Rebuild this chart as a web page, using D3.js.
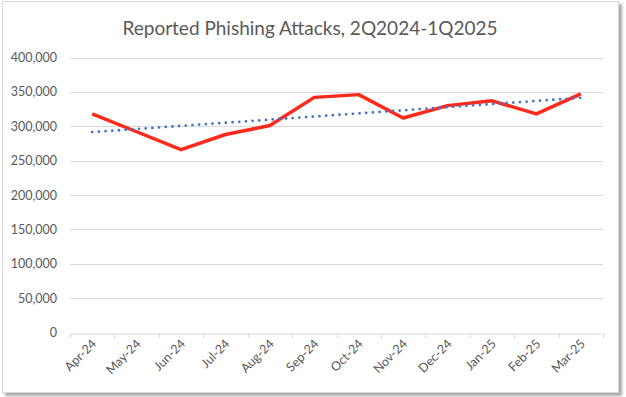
<!DOCTYPE html>
<html>
<head>
<meta charset="utf-8">
<script src="https://cdn.jsdelivr.net/npm/d3@7"></script>
<style>
  body { margin: 0; background: #fff; }
  svg { display: block; font-family: Lato, "Open Sans", sans-serif; }
</style>
</head>
<body>
<svg id="chart" width="626" height="397"></svg>
<script>
// Monthly reported phishing attacks
const months = ['Apr-24', 'May-24', 'Jun-24', 'Jul-24', 'Aug-24', 'Sep-24',
                'Oct-24', 'Nov-24', 'Dec-24', 'Jan-25', 'Feb-25', 'Mar-25'];
const attacks = [318000, 292000, 266000, 288000, 301000, 342000,
                 346000, 312000, 330000, 337000, 318000, 347000];
const yTicks = [0, 50000, 100000, 150000, 200000, 250000, 300000, 350000, 400000];

const svg = d3.select('#chart');

// Chart frame with soft shadow on right/bottom
const defs = svg.append('defs');
const f = defs.append('filter').attr('id', 'shadow')
    .attr('x', '-5%').attr('y', '-5%').attr('width', '110%').attr('height', '110%');
f.append('feDropShadow').attr('dx', 3).attr('dy', 3).attr('stdDeviation', 1.6)
    .attr('flood-color', '#000').attr('flood-opacity', 0.35);

svg.append('rect')
    .attr('x', 2.5).attr('y', 1.5).attr('width', 616).attr('height', 391)
    .attr('fill', '#fff').attr('stroke', '#d9d9d9').attr('stroke-width', 1)
    .attr('filter', 'url(#shadow)');

// Title
svg.append('text')
    .attr('x', 310).attr('y', 35)
    .attr('text-anchor', 'middle')
    .style('font-size', '19px')
    .style('fill', '#595959')
    .text('Reported Phishing Attacks, 2Q2024-1Q2025');

// Plot area
const plotLeft = 70, plotRight = 603, plotTop = 57.5, plotBottom = 332.5;

const x = d3.scaleBand().domain(months).range([plotLeft, plotRight]);
const y = d3.scaleLinear().domain([0, 400000]).range([plotBottom, plotTop]);

// Gridlines
svg.append('g')
    .selectAll('line')
    .data(yTicks.filter(d => d > 0))
    .join('line')
    .attr('x1', plotLeft).attr('x2', plotRight)
    .attr('y1', d => Math.round(y(d)) + 0.5).attr('y2', d => Math.round(y(d)) + 0.5)
    .attr('stroke', '#d9d9d9').attr('stroke-width', 1);

// Y axis labels
const yAxis = svg.append('g')
    .attr('transform', `translate(${plotLeft},0)`)
    .call(d3.axisLeft(y).tickValues(yTicks).tickSize(0).tickPadding(13)
        .tickFormat(d3.format(',')));
yAxis.select('.domain').remove();
yAxis.selectAll('text')
    .style('font-size', '12.5px')
    .style('font-family', 'Lato, "Open Sans", sans-serif')
    .attr('fill', '#595959');

// X axis
const xAxis = svg.append('g')
    .attr('transform', `translate(0,${Math.round(plotBottom) + 0.5})`)
    .call(d3.axisBottom(x).tickSize(0).tickFormat(d => d));
xAxis.select('.domain').attr('stroke', '#d9d9d9');
xAxis.selectAll('.tick line').remove();

// Tick marks at band boundaries
svg.append('g')
    .selectAll('line')
    .data(months.map(m => x(m)).concat([plotRight]))
    .join('line')
    .attr('x1', d => Math.round(d) + 0.5).attr('x2', d => Math.round(d) + 0.5)
    .attr('y1', Math.round(plotBottom) + 0.5).attr('y2', Math.round(plotBottom) + 5)
    .attr('stroke', '#d9d9d9');

xAxis.selectAll('text')
    .attr('text-anchor', 'end')
    .attr('dy', null)
    .attr('y', 0)
    .attr('transform', 'translate(5,11) rotate(-45)')
    .style('font-size', '12.5px')
    .style('font-family', 'Lato, "Open Sans", sans-serif')
    .attr('fill', '#595959');

const cx = d => x(d) + x.bandwidth() / 2;

// Linear trendline (least squares over the series)
const n = attacks.length;
const mx = d3.mean(attacks, (d, i) => i);
const my = d3.mean(attacks);
const slope = d3.sum(attacks, (d, i) => (i - mx) * (d - my)) /
              d3.sum(attacks, (d, i) => (i - mx) * (i - mx));
const trendAt = i => my + slope * (i - mx);

// Red data line
svg.append('path')
    .datum(attacks)
    .attr('fill', 'none')
    .attr('stroke', '#ff2a1c')
    .attr('stroke-width', 3.5)
    .attr('stroke-linejoin', 'round')
    .attr('d', d3.line().x((d, i) => cx(months[i])).y(d => y(d)));

// Dotted trendline
svg.append('path')
    .datum([0, n - 1])
    .attr('fill', 'none')
    .attr('stroke', '#4472c4')
    .attr('stroke-width', 2.8)
    .attr('stroke-linecap', 'round')
    .attr('stroke-dasharray', '0 6.7')
    .attr('d', d3.line().x(i => cx(months[i])).y(i => y(trendAt(i))));
</script>
</body>
</html>
